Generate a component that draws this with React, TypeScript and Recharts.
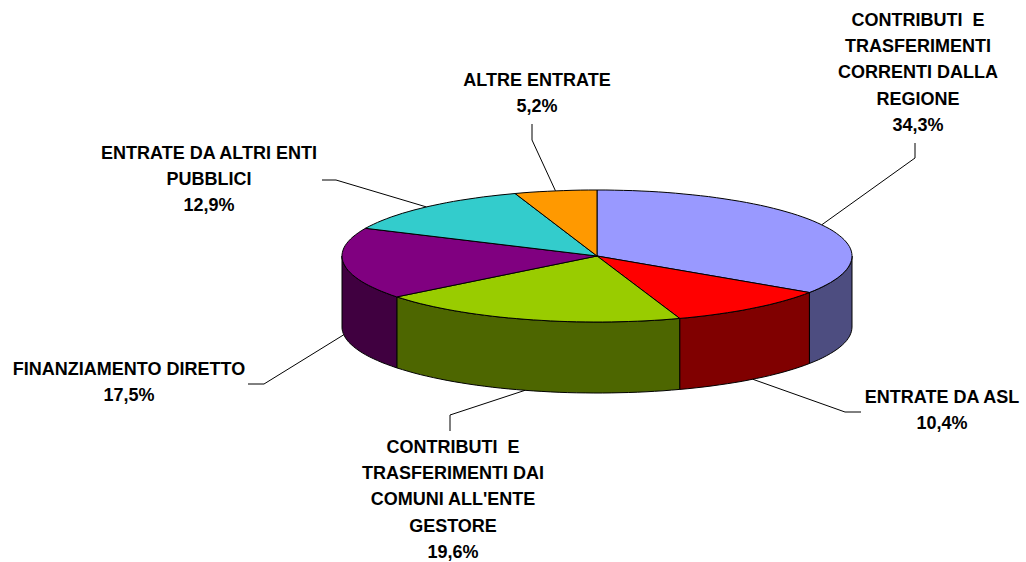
import { PieChart, Pie, Cell } from 'recharts'

const categories = [
  ['CONTRIBUTI  E', 'TRASFERIMENTI', 'CORRENTI DALLA', 'REGIONE'],
  ['ENTRATE DA ASL'],
  ['CONTRIBUTI  E', 'TRASFERIMENTI DAI', "COMUNI ALL'ENTE", 'GESTORE'],
  ['FINANZIAMENTO DIRETTO'],
  ['ENTRATE DA ALTRI ENTI', 'PUBBLICI'],
  ['ALTRE ENTRATE'],
]
const values = [34.3, 10.4, 19.6, 17.5, 12.9, 5.2]
const topColors = ['#9999FF', '#FF0000', '#99CC00', '#800080', '#33CCCC', '#FF9900']
const sideColors = ['#4D4D80', '#800000', '#4D6600', '#400040', '#1A6666', '#804D00']

const CX = 597
const CY = 256
const RX = 255
const RY = 66
const DEPTH = 71
const LINE_H = 26.3

// label centre (x, first line y) and leader elbow / end
const labelLayout = [
  { x: 918, y: 21, elbow: [915, 158], end: [915, 143] },
  { x: 942, y: 398, elbow: [845, 412], end: [861, 412] },
  { x: 453, y: 448, elbow: [450, 415], end: [450, 431] },
  { x: 129, y: 370, elbow: [264, 384], end: [248, 384] },
  { x: 209, y: 154, elbow: [336, 180], end: [322, 180] },
  { x: 537, y: 81, elbow: [532, 140], end: [532, 124] },
]

const rad = (a: number) => (a * Math.PI) / 180
const px = (a: number) => CX + RX * Math.cos(rad(a))
const py = (a: number) => CY - RY * Math.sin(rad(a))

const arcPoints = (from: number, to: number, dy = 0) => {
  const n = Math.max(2, Math.ceil(Math.abs(from - to) / 2))
  const pts: string[] = []
  for (let i = 0; i <= n; i++) {
    const a = from + ((to - from) * i) / n
    pts.push(`${px(a).toFixed(1)},${(py(a) + dy).toFixed(1)}`)
  }
  return pts
}

const Slice3D = (props: any) => {
  const { startAngle, endAngle, index } = props
  const from = Math.min(startAngle, 0)
  const to = Math.max(endAngle, -180)
  const top = arcPoints(startAngle, endAngle)
  return (
    <g>
      {from > to && (
        <polygon
          points={[...arcPoints(from, to), ...arcPoints(to, from, DEPTH)].join(' ')}
          fill={sideColors[index]}
          stroke="#000"
          strokeWidth={1}
        />
      )}
      <polygon
        points={[`${CX},${CY}`, ...top].join(' ')}
        fill={topColors[index]}
        stroke="#000"
        strokeWidth={1}
      />
    </g>
  )
}

const SliceLabel = (props: any) => {
  const { index, midAngle } = props
  const layout = labelLayout[index]
  const sx = px(midAngle)
  const sy = py(midAngle) + (Math.sin(rad(midAngle)) < 0 ? DEPTH : 0)
  const lines = [...categories[index], values[index].toFixed(1).replace('.', ',') + '%']
  return (
    <g>
      <polyline
        points={`${sx},${sy} ${layout.elbow.join(',')} ${layout.end.join(',')}`}
        fill="none"
        stroke="#000"
        strokeWidth={1}
      />
      <text
        textAnchor="middle"
        fontFamily="Liberation Sans"
        fontWeight="bold"
        fontSize={18}
        fill="#000"
        style={{ whiteSpace: 'pre' }}
      >
        {lines.map((line, i) => (
          <tspan key={i} x={layout.x} y={layout.y + i * LINE_H} dominantBaseline="middle">
            {line}
          </tspan>
        ))}
      </text>
    </g>
  )
}

const data = values.map((value, i) => ({ name: categories[i].join(' '), value }))

export default function App() {
  return (
    <div style={{ position: 'absolute', left: 0, top: 0, width: 1026, height: 562, background: '#fff' }}>
      <PieChart width={1026} height={562} margin={{ top: 0, right: 0, bottom: 0, left: 0 }}>
        <Pie
          data={data}
          dataKey="value"
          cx={CX}
          cy={CY}
          innerRadius={0}
          outerRadius={RX}
          startAngle={90}
          endAngle={-270}
          paddingAngle={0}
          shape={Slice3D}
          label={SliceLabel}
          labelLine={false}
          isAnimationActive={false}
        >
          {data.map((_, i) => (
            <Cell key={i} fill={topColors[i]} />
          ))}
        </Pie>
      </PieChart>
    </div>
  )
}
